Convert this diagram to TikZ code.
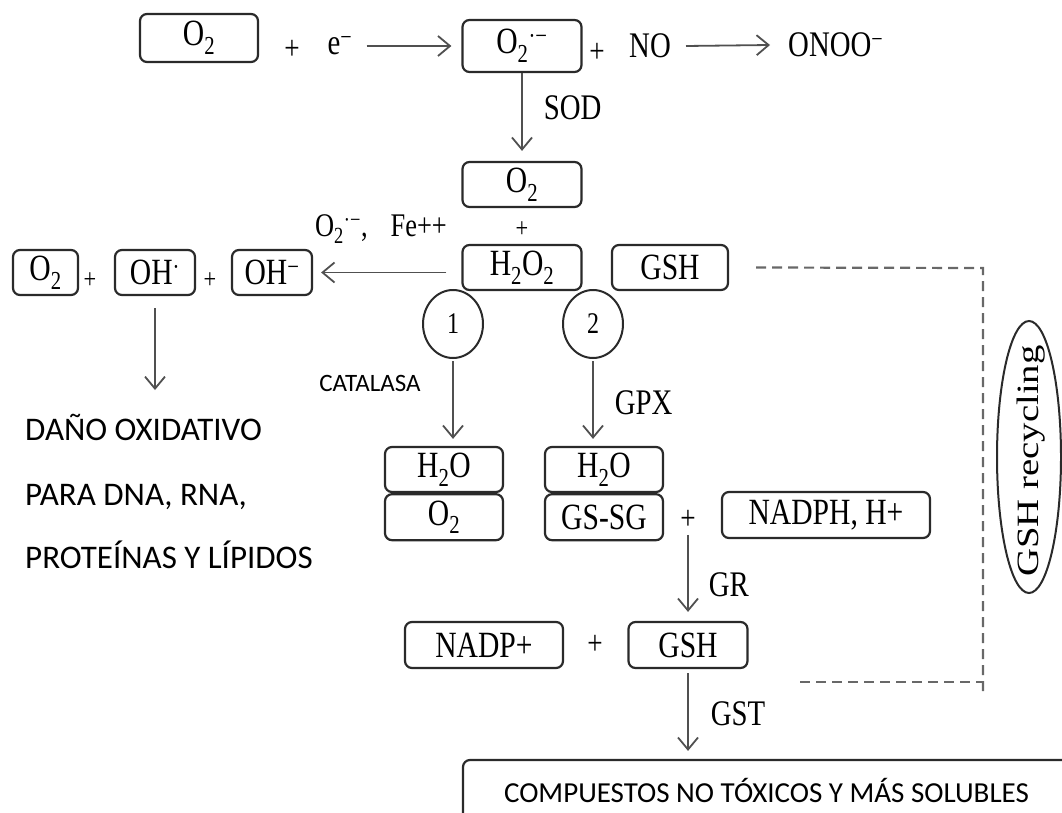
\documentclass[tikz,border=0pt]{standalone}
\usepackage{fontspec}
\setmainfont{Liberation Serif}[FakeStretch=0.8]
\newfontfamily\sansfam{Carlito}
\newfontfamily\vertfam{Liberation Serif}[FakeStretch=1.25]
\usetikzlibrary{positioning,shapes,arrows.meta}
\definecolor{arrowgray}{HTML}{505050}
\definecolor{dashgray}{HTML}{686868}
\definecolor{boxline}{HTML}{2a2a2a}

\begin{document}
\begin{tikzpicture}[x=1pt,y=-1pt,
  species/.style={draw=boxline, line width=2.2pt, rounded corners=7pt, inner sep=0pt,
    minimum height=45pt, font=\fontsize{37}{40}\selectfont},
  plus/.style={inner sep=0pt, font=\fontsize{34}{36}\selectfont},
  enzyme/.style={inner sep=0pt, font=\fontsize{36}{38}\selectfont},
  route/.style={draw=boxline, ellipse, line width=2pt, minimum width=60pt, minimum height=68pt,
    inner sep=0pt, font=\fontsize{30}{32}\selectfont},
  note/.style={inner sep=0pt, anchor=base west, font=\sansfam\fontsize{33}{36}\selectfont},
  flow/.style={-{Straight Barb[length=12pt,width=20pt]}, line width=1.8pt, draw=arrowgray},
  recycle/.style={dash pattern=on 10pt off 6pt, line width=2.2pt, draw=dashgray}]

   \clip (0,0) rectangle (1062,813);

   \node[species, minimum width=118pt, minimum height=48pt] (o2top) at (199,38) {O\textsubscript{2}};
   \node[plus] (plus1) at (292,50) {+};
   \node[enzyme] (elec) at (340,46) {e\textsuperscript{−}};
   \node[species, minimum width=119pt, minimum height=52pt] (o2rad) at (522,46)
   {O\textsubscript{2}\textsuperscript{·−}};
   \node[plus] (plus2) at (597,53) {+};
   \node[enzyme] (no) at (650,46) {NO};
   \node[enzyme, anchor=west] (onoo) at (788,45) {ONOO\textsuperscript{−}};

   \node[species, minimum width=119pt] (o2mid) at (522,184.5) {O\textsubscript{2}};
   \node[plus, font=\fontsize{28}{30}\selectfont] (plus3) at (522,230) {+};
   \node[species, minimum width=119pt] (h2o2) at (522,267.5) {H\textsubscript{2}O\textsubscript{2}};
   \node[species, minimum width=116pt] (gshtop) at (670,267.5) {GSH};
   \node[enzyme, font=\fontsize{33}{36}\selectfont] (fe) at (381,229)
   {O\textsubscript{2}\textsuperscript{·−},\hspace{0.7em}Fe++};

   \node[species, minimum width=65pt] (o2left) at (45.5,272.5) {O\textsubscript{2}};
   \node[plus, font=\fontsize{28}{30}\selectfont] (plus4) at (90,281) {+};
   \node[species, minimum width=80pt] (oh) at (155,272.5) {OH\textsuperscript{·}};
   \node[plus, font=\fontsize{28}{30}\selectfont] (plus5) at (210,281) {+};
   \node[species, minimum width=80pt] (ohm) at (272,272.5) {OH\textsuperscript{−}};
   \coordinate (damage) at (155,390);

   \node[note] (dano) at (25,440) {DAÑO OXIDATIVO};
   \node[note] (para) at (25,505) {PARA DNA, RNA,};
   \node[note] (prot) at (25,568) {PROTEÍNAS Y LÍPIDOS};

   \node[route] (path1) at (453,324) {1};
   \node[route] (path2) at (593,324) {2};
   \node[inner sep=0pt, font=\sansfam\fontsize{25}{28}\selectfont] (catalasa) at (370,383) {CATALASA};

   \node[species, minimum width=118pt] (h2oa) at (444,469.5) {H\textsubscript{2}O};
   \node[species, minimum width=118pt, minimum height=46pt, below=0pt of h2oa] (o2low) {O\textsubscript{2}};
   \node[species, minimum width=118pt] (h2ob) at (604,469.5) {H\textsubscript{2}O};
   \node[species, minimum width=118pt, minimum height=46pt, below=0pt of h2ob] (gssg) {GS-SG};
   \node[plus] (plus6) at (688,520) {+};
   \node[species, minimum width=208pt, minimum height=46pt] (nadph) at (826,515) {NADPH, H+};

   \node[species, minimum width=158pt, minimum height=46pt] (nadp) at (484,645) {NADP+};
   \node[plus] (plus7) at (595,645) {+};
   \node[species, minimum width=119pt, minimum height=46pt] (gshlow) at (688,645) {GSH};
   \node[species, minimum width=607pt, minimum height=60pt, font=\sansfam\fontsize{29}{32}\selectfont]
   (prod) at (766.5,790) {COMPUESTOS NO TÓXICOS Y MÁS SOLUBLES};

   \node[rotate=90, inner sep=0pt, font=\vertfam\fontsize{31}{34}\selectfont] (recyc) at (1031,461) {GSH recycling};
   \draw[boxline, line width=2pt] (1029,457) ellipse (32pt and 136pt);

   \draw[flow] ([xshift=14pt]elec.east) -- ([xshift=-10pt]o2rad.west);
   \draw[flow] ([xshift=15pt]no.east) -- ([xshift=-18pt]onoo.west);
   \draw[flow, shorten >=10pt] (o2rad) -- node[enzyme, pos=0.4, right=21pt]{SOD} (o2mid);
   \draw[flow, shorten <=2pt, shorten >=7pt] (path1.south) -- (path1.south |- h2oa.north);
   \draw[flow, shorten <=2pt, shorten >=7pt] (path2.south) -- node[enzyme, right=21pt]{GPX} (path2.south |- h2ob.north);
   \draw[flow, shorten <=5pt, shorten >=9pt] (plus6) -- node[enzyme, pos=0.6, right=20pt]{GR} (gshlow);
   \draw[flow, shorten <=4pt, shorten >=8pt] (gshlow) -- node[enzyme, right=22pt]{GST} (gshlow |- prod.north);
   \draw[flow, shorten <=12pt] (oh) -- (damage);
   \draw[flow] ([xshift=-15pt]h2o2.west |- ohm.east) -- ([xshift=8pt]ohm.east);

   \coordinate (cornertop) at (983,268);
   \coordinate (cornerlow) at (983,693);
   \coordinate (lowstart) at (800,682);
   \draw[recycle] ([xshift=27pt]gshtop.east) -- (cornertop) -- (cornerlow);
   \draw[recycle] (lowstart) -- (lowstart -| cornertop);
\end{tikzpicture}
\end{document}
